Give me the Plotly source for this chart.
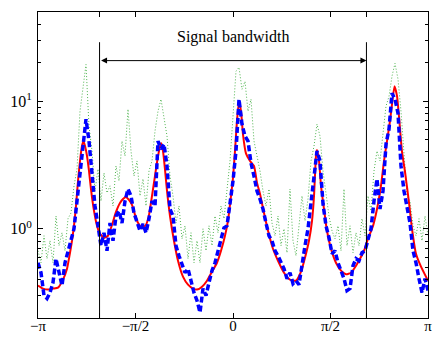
import numpy as np
import plotly.graph_objects as go

PI = np.pi
# smooth model spectrum (red)
red_f = [-3.1416, -3.061, -2.981, -2.900, -2.819, -2.739, -2.674, -2.626, -2.594, -2.562,
         -2.529, -2.497, -2.465, -2.433, -2.409, -2.384, -2.352, -2.320, -2.288, -2.239,
         -2.191, -2.143, -2.078, -2.014, -1.949, -1.885, -1.821, -1.772, -1.724, -1.676,
         -1.627, -1.579, -1.531, -1.466, -1.402, -1.353, -1.305, -1.257, -1.208, -1.160,
         -1.128, -1.096, -1.063, -1.015, -0.951, -0.886, -0.806, -0.725, -0.644, -0.580,
         -0.499, -0.419, -0.338, -0.258, -0.193, -0.129, -0.081, -0.032, 0.0, 0.032,
         0.064, 0.097, 0.129, 0.161, 0.209, 0.274, 0.338, 0.387, 0.435, 0.499,
         0.564, 0.644, 0.725, 0.822, 0.918, 1.015, 1.096, 1.160, 1.224, 1.273,
         1.305, 1.337, 1.353, 1.386, 1.418, 1.466, 1.514, 1.579, 1.659, 1.740,
         1.821, 1.901, 1.982, 2.046, 2.111, 2.175, 2.256, 2.320, 2.384, 2.433,
         2.481, 2.529, 2.562, 2.602, 2.642, 2.674, 2.723, 2.771, 2.836, 2.884,
         2.948, 3.029, 3.1416]
red_v = [0.359, 0.340, 0.334, 0.340, 0.346, 0.400, 0.487, 0.649, 0.806, 1.055,
         1.513, 2.371, 3.40, 4.45, 4.87, 4.45, 3.72, 2.84, 2.05, 1.38,
         1.055, 0.914, 0.851, 0.882, 1.075, 1.358, 1.596, 1.715, 1.778, 1.685,
         1.54, 1.286, 1.114, 1.018, 1.075, 1.286, 1.81, 2.59, 3.72, 4.70,
         4.07, 2.94, 1.98, 1.26, 0.806, 0.562, 0.422, 0.365, 0.340, 0.334,
         0.352, 0.392, 0.461, 0.542, 0.673, 0.882, 1.155, 1.81, 2.50, 4.07,
         6.98, 10.0, 8.35, 5.50, 3.90, 3.40, 3.11, 2.29, 1.876, 1.334,
         0.965, 0.698, 0.562, 0.453, 0.400, 0.392, 0.461, 0.594, 0.806, 1.155,
         1.80, 3.72, 4.14, 3.40, 2.17, 1.43, 0.965, 0.698, 0.542, 0.470,
         0.440, 0.453, 0.514, 0.583, 0.673, 0.835, 1.055, 1.43, 2.17, 3.40,
         4.87, 6.98, 9.5, 13.1, 11.0, 7.6, 4.0, 2.8, 1.6, 1.0,
         0.638, 0.505, 0.392]

# noisy estimates on a regular grid
grid_n = 131
blue_v = [0.542, 0.453, 0.300, 0.284, 0.316, 0.379, 0.583, 0.470, 0.359, 0.542,
          0.673, 0.835, 1.0, 1.65, 2.84, 4.87, 7.23, 4.87, 2.46, 1.51,
          1.055, 0.737, 0.931, 0.673, 1.11, 0.806, 1.26, 1.38, 1.11, 1.65,
          2.05, 1.81, 1.33, 1.155, 0.965, 1.094, 0.931, 1.20, 1.65, 1.51,
          4.87, 4.22, 4.61, 3.11, 1.43, 1.26, 0.737, 0.615, 0.514, 0.453,
          0.487, 0.379, 0.316, 0.274, 0.221, 0.340, 0.300, 0.379, 0.470, 0.542,
          0.673, 0.806, 1.018, 1.055, 1.57, 2.37, 4.07, 10.36, 6.61, 5.33,
          4.87, 3.28, 2.59, 1.98, 1.71, 1.43, 1.11, 0.882, 0.806, 0.673,
          0.615, 0.542, 0.487, 0.407, 0.453, 0.372, 0.392, 0.365, 0.542, 0.737,
          1.0, 1.65, 2.37, 4.07, 3.40, 1.57, 1.055, 0.851, 0.638, 0.673,
          0.542, 0.470, 0.407, 0.328, 0.340, 0.514, 0.583, 0.562, 0.649, 0.673,
          0.806, 1.0, 1.65, 2.46, 1.43, 1.98, 4.61, 6.04, 11.55, 10.36,
          8.06, 3.11, 1.98, 1.51, 1.11, 0.673, 0.542, 0.407, 0.316, 0.407,
          0.328]
green_v = [0.673, 0.542, 0.882, 0.583, 0.806, 0.542, 1.26, 0.737, 0.931, 0.673,
           1.20, 1.33, 2.17, 2.94, 8.35, 12.4, 19.4, 6.38, 4.07, 1.98,
           2.94, 1.65, 2.74, 1.91, 2.17, 1.51, 3.11, 2.37, 4.87, 3.72,
           8.66, 4.07, 2.59, 3.40, 1.81, 2.46, 1.51, 2.84, 3.40, 5.83,
           8.35, 10.36, 7.23, 5.33, 2.59, 1.81, 1.11, 1.51, 0.835, 1.055,
           0.583, 0.931, 0.542, 0.806, 0.542, 1.0, 0.673, 1.055, 0.737, 1.26,
           0.931, 1.51, 1.20, 2.17, 3.40, 7.63, 17.2, 18.4, 12.4, 14.3,
           8.35, 10.36, 4.87, 3.72, 2.84, 1.98, 1.51, 2.05, 1.11, 0.882,
           1.26, 0.737, 1.0, 0.649, 2.05, 0.806, 0.615, 1.055, 1.81, 1.155,
           1.71, 3.40, 4.45, 6.61, 5.33, 2.84, 1.81, 1.26, 0.965, 0.835,
           1.055, 0.673, 2.05, 0.737, 1.055, 0.649, 0.931, 0.737, 1.20, 0.882,
           1.81, 1.38, 2.84, 4.07, 3.40, 5.83, 9.14, 10.9, 15.7, 19.8,
           14.9, 8.35, 4.07, 1.81, 1.65, 1.055, 0.882, 1.20, 0.806, 1.26,
           0.882]
grid_f = np.linspace(-PI, PI, grid_n)

band_edge = 2.15
band_line_top = 29.0
arrow_y = 20.8
label_y = 32.0
y_range = [0.2, 50]

serif = "Liberation Serif, Times New Roman, serif"

fig = go.Figure()
fig.add_trace(go.Scatter(x=grid_f, y=green_v, mode="lines",
                         line=dict(color="rgb(80,180,80)", width=1, dash="1px,2px"),
                         showlegend=False, hoverinfo="skip"))
fig.add_trace(go.Scatter(x=red_f, y=red_v, mode="lines",
                         line=dict(color="rgb(255,0,0)", width=2, shape="spline", smoothing=0.5),
                         showlegend=False, hoverinfo="skip"))
fig.add_trace(go.Scatter(x=grid_f, y=blue_v, mode="lines",
                         line=dict(color="rgb(0,0,255)", width=3.5, dash="6px,3px"),
                         showlegend=False, hoverinfo="skip"))

for e in (-band_edge, band_edge):
    fig.add_shape(type="line", x0=e, x1=e, y0=y_range[0], y1=band_line_top,
                  xref="x", yref="y", line=dict(color="black", width=1))

fig.add_annotation(x=band_edge, y=np.log10(arrow_y), ax=-band_edge, ay=np.log10(arrow_y),
                   xref="x", yref="y", axref="x", ayref="y", text="",
                   showarrow=True, arrowhead=2, arrowside="end+start",
                   arrowsize=1.2, arrowwidth=1, arrowcolor="black")
fig.add_annotation(x=0, y=np.log10(label_y), xref="x", yref="y", text="Signal bandwidth",
                   showarrow=False, font=dict(family=serif, size=16, color="black"))

fig.update_xaxes(range=[-PI, PI], showgrid=False, zeroline=False, automargin=False,
                 showline=True, linecolor="black", linewidth=1, mirror="ticks",
                 ticks="inside", ticklen=5, tickcolor="black", ticklabelstandoff=-6,
                 tickvals=[-PI, -band_edge, -PI / 2, 0, PI / 2, band_edge, PI],
                 ticktext=["\u2212\u03c0", "", "\u2212\u03c0/2", "0", "\u03c0/2", "", "\u03c0"],
                 tickfont=dict(family=serif, size=15, color="black"))
minor_vals = [0.2, 0.3, 0.4, 0.5, 0.6, 0.7, 0.8, 0.9, 2, 3, 4, 5, 6, 7, 8, 9, 20, 30, 40, 50]
fig.update_yaxes(type="log", range=[np.log10(y_range[0]), np.log10(y_range[1])],
                 showgrid=False, zeroline=False, automargin=False,
                 showline=True, linecolor="black", linewidth=1, mirror="ticks",
                 ticks="inside", ticklen=5, tickcolor="black", ticklabelstandoff=2,
                 tickvals=[1, 10], ticktext=["10<sup>0</sup>", "10<sup>1</sup>"],
                 minor=dict(tickmode="array", tickvals=minor_vals, ticks="inside",
                            ticklen=3, tickcolor="black"),
                 tickfont=dict(family=serif, size=16, color="black"))

fig.update_layout(width=433, height=338, margin=dict(l=38, r=5, t=12, b=20),
                  plot_bgcolor="white", paper_bgcolor="white", hovermode=False)
fig.write_html("out.html", config={"displayModeBar": False, "staticPlot": True},
               post_script="document.body.style.margin='0px';document.body.style.padding='0px';")
